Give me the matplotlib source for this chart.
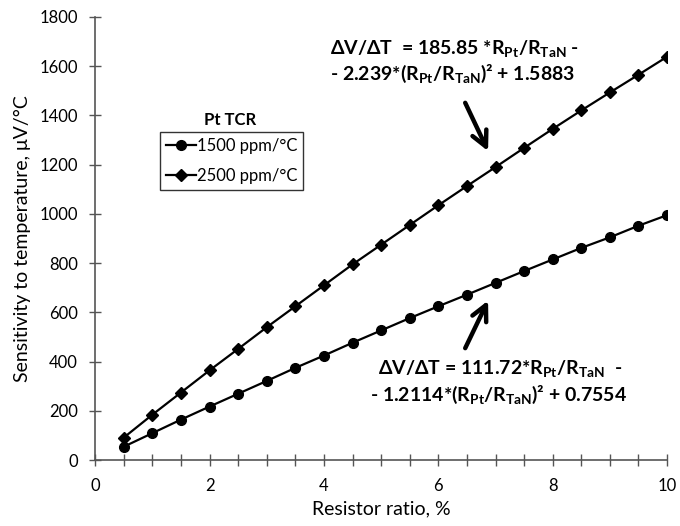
import numpy as np
import matplotlib
matplotlib.use('Agg')
import matplotlib.pyplot as plt
from matplotlib.ticker import MultipleLocator

# ---------------- data ----------------
ratio = [0.5, 1.0, 1.5, 2.0, 2.5, 3.0, 3.5, 4.0, 4.5, 5.0,
         5.5, 6.0, 6.5, 7.0, 7.5, 8.0, 8.5, 9.0, 9.5, 10.0]
sens_1500 = [55, 110, 165, 218, 270, 322, 375, 425, 477, 527,
             577, 625, 672, 720, 768, 815, 862, 905, 952, 995]
sens_2500 = [92, 185, 275, 365, 452, 540, 625, 710, 795, 875,
             955, 1035, 1113, 1190, 1268, 1345, 1420, 1493, 1565, 1638]
labels = ['1500 ppm/°C', '2500 ppm/°C']
x_ticks = [0, 2, 4, 6, 8, 10]
y_ticks = [0, 200, 400, 600, 800, 1000, 1200, 1400, 1600, 1800]
# ---------------------------------------------------------

plt.rcParams['font.family'] = ['Lato', 'DejaVu Sans']
plt.rcParams['mathtext.fontset'] = 'custom'
plt.rcParams['mathtext.rm'] = 'Lato:bold'
plt.rcParams['mathtext.bf'] = 'Lato:bold'

fig = plt.figure(figsize=(6.8, 5.26), dpi=100)
ax = fig.add_axes([0.14, 0.125, 0.841, 0.843])

ax.plot(ratio, sens_1500, color='black', lw=1.6, marker='o', ms=7, label=labels[0])
ax.plot(ratio, sens_2500, color='black', lw=1.6, marker='D', ms=6, label=labels[1])

ax.set_xlim(0, 10)
ax.set_ylim(0, 1800)
ax.set_xticks(x_ticks)
ax.set_yticks(y_ticks)
ax.xaxis.set_minor_locator(MultipleLocator(0.5))
ax.tick_params(axis='both', which='major', direction='inout', length=9, width=1,
               color='#555555', labelsize=12, pad=8)
ax.tick_params(axis='x', which='minor', direction='inout', length=9, width=1, color='#555555')
for s in ['top', 'right']:
    ax.spines[s].set_visible(False)
for s in ['left', 'bottom']:
    ax.spines[s].set_color('#555555')
    ax.spines[s].set_linewidth(1.2)

ax.set_xlabel('Resistor ratio, %', fontsize=14, labelpad=5)
ax.set_ylabel('Sensitivity to temperature, μV/°C', fontsize=14, labelpad=6)

leg = ax.legend(loc='upper left', bbox_to_anchor=(0.114, 0.74), frameon=True,
                fancybox=False, edgecolor='black', fontsize=12, handlelength=1.8,
                handletextpad=0.05, borderpad=0.35, labelspacing=0.85, borderaxespad=0)
leg.get_frame().set_linewidth(1.0)
ax.text(0.236, 0.75, 'Pt TCR', transform=ax.transAxes, fontsize=12,
        fontweight='bold', ha='center', va='bottom')

eq_kw = dict(fontsize=14, fontweight='bold', ha='left', va='center')
arrow_kw = dict(arrowstyle='->,head_length=1.1,head_width=0.55', lw=3.2,
                color='black', shrinkA=0, shrinkB=0)

# fit equations
ax.text(4.1, 1670, 'ΔV/ΔT  = 185.85 *R$_{\\mathbf{Pt}}$/R$_{\\mathbf{TaN}}$ -', **eq_kw)
ax.text(4.1, 1570, '- 2.239*(R$_{\\mathbf{Pt}}$/R$_{\\mathbf{TaN}}$)² + 1.5883', **eq_kw)
ax.annotate('', xy=(6.87, 1255), xytext=(6.47, 1451), arrowprops=arrow_kw)

ax.text(4.95, 370, 'ΔV/ΔT = 111.72*R$_{\\mathbf{Pt}}$/R$_{\\mathbf{TaN}}$  -', **eq_kw)
ax.text(4.8, 268, '- 1.2114*(R$_{\\mathbf{Pt}}$/R$_{\\mathbf{TaN}}$)² + 0.7554', **eq_kw)
ax.annotate('', xy=(6.87, 648), xytext=(6.47, 455), arrowprops=arrow_kw)

fig.savefig('out.png', dpi=100)
